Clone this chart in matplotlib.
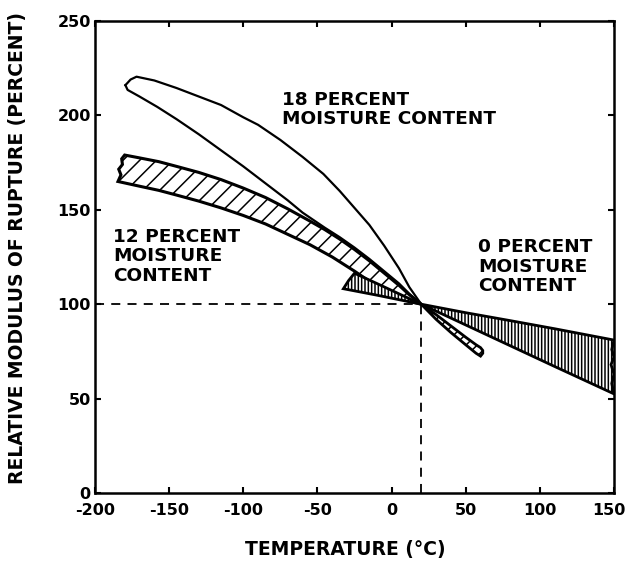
import matplotlib.pyplot as plt
from matplotlib.transforms import ScaledTranslation

plt.rcParams['font.family'] = 'DejaVu Sans'
plt.rcParams['font.weight'] = 'bold'
plt.rcParams['axes.unicode_minus'] = False
plt.rcParams['hatch.linewidth'] = 1.1

# 18 percent moisture content - open band (upper and lower edge)
mc18_top_x = [-179.5, -176, -172, -160, -145, -130, -115, -100, -90, -75, -60, -46, -35, -25, -15, -5, 5, 12, 20]
mc18_top_y = [216, 219, 220.5, 218.5, 214.5, 210, 205.5, 199, 195, 187, 178, 169, 160, 151, 142, 131, 119, 109, 100]
mc18_bot_x = [-179.5, -178, -170, -158, -145, -130, -115, -100, -85, -70, -60, -45, -35, -25, -15, -5, 5, 12, 20]
mc18_bot_y = [216, 213.5, 210, 204.5, 198, 190, 181.5, 173, 164, 155, 148.5, 140.5, 135.5, 130, 124, 117.5, 111, 105.5, 100]
# narrow tail of the band above 20 C
tail_top_x = [20, 30, 40, 50, 57, 60, 61.5]
tail_top_y = [100, 94.5, 88.5, 82.5, 78.5, 77, 75.5]
tail_bot_x = [20, 30, 40, 50, 57, 60, 61.5]
tail_bot_y = [100, 92, 85, 78.5, 74, 72.5, 74]

# 12 percent moisture content - diagonal hatched band
mc12_top_x = [-180, -170, -157, -145, -130, -115, -100, -85, -70, -55, -45, -35, -25, -15, -5, 5, 12, 20]
mc12_top_y = [179, 177.5, 175.5, 173, 169.8, 166, 161.5, 156.5, 150.5, 144, 139.5, 134.5, 129, 123, 116.5, 110, 105, 100]
mc12_bot_x = [-184.5, -170, -157, -145, -130, -115, -100, -85, -70, -55, -40, -25, -10, 5, 20]
mc12_bot_y = [165, 162.5, 160.3, 157.8, 154.6, 151, 147, 142.5, 137, 131.5, 125, 117.5, 109.5, 103, 100]
mc12_break_x = [-184.5, -182.5, -184, -181.5, -182, -180]
mc12_break_y = [165, 168.5, 171.5, 174, 177, 179]

# 0 percent moisture content - vertical hatched band
mc0_left_top_x = [-32.5, -29, -25, -10, 5, 20]
mc0_left_top_y = [108.2, 112.5, 116.4, 111, 105.5, 100]
mc0_left_bot_x = [-32.5, -10, 5, 20]
mc0_left_bot_y = [108.2, 104.8, 102.4, 100]
mc0_right_top_x = [20, 50, 80, 110, 150]
mc0_right_top_y = [100, 95.5, 91.3, 87, 81]
mc0_right_bot_x = [20, 50, 80, 110, 150]
mc0_right_bot_y = [100, 89, 78, 67, 52.5]
mc0_break_x = [150, 148.5, 150, 148, 150, 148.5, 150]
mc0_break_y = [52.5, 58, 63, 68, 72, 76, 81]

x_ticks = [-200, -150, -100, -50, 0, 50, 100, 150]
y_ticks = [0, 50, 100, 150, 200, 250]
ref_temp = 20
ref_value = 100

fig = plt.figure(figsize=(6.29, 5.64), dpi=100)
ax = fig.add_axes([95 / 629, 71 / 564, 519 / 629, 472 / 564])

# reference lines
ax.plot([-200, ref_temp], [ref_value, ref_value], color='black', lw=1.3, ls=(0, (5, 4)))
ax.plot([ref_temp, ref_temp], [0, ref_value], color='black', lw=1.3, ls=(0, (5, 4)))

# 12 percent band
ax.fill(mc12_top_x + mc12_bot_x[::-1] + mc12_break_x, mc12_top_y + mc12_bot_y[::-1] + mc12_break_y,
        facecolor='white', edgecolor='black', lw=2.2, hatch='//')

# 0 percent band
ax.fill(mc0_left_top_x + mc0_left_bot_x[::-1], mc0_left_top_y + mc0_left_bot_y[::-1],
        facecolor='white', edgecolor='black', lw=2.0, hatch='|||||')
ax.fill(mc0_right_top_x + mc0_break_x[::-1] + mc0_right_bot_x[::-1],
        mc0_right_top_y + mc0_break_y[::-1] + mc0_right_bot_y[::-1],
        facecolor='white', edgecolor='black', lw=2.0, hatch='|||||')

# 18 percent band
ax.plot(mc18_top_x, mc18_top_y, color='black', lw=1.6)
ax.plot(mc18_bot_x, mc18_bot_y, color='black', lw=1.6)
ax.fill(tail_top_x + tail_bot_x[::-1], tail_top_y + tail_bot_y[::-1],
        facecolor='white', edgecolor='black', lw=2.0, hatch='///')

ax.text(-74, 213, '18 PERCENT\nMOISTURE CONTENT', fontsize=13.3, ha='left', va='top', linespacing=1.1)
ax.text(-188, 140.5, '12 PERCENT\nMOISTURE\nCONTENT', fontsize=13.3, ha='left', va='top', linespacing=1.1)
ax.text(58.5, 135, '0 PERCENT\nMOISTURE\nCONTENT', fontsize=13.3, ha='left', va='top', linespacing=1.1)

ax.set_xlim(-200, 150)
ax.set_ylim(0, 250)
ax.set_xticks(x_ticks)
ax.set_yticks(y_ticks)
ax.tick_params(axis='both', which='major', labelsize=11.5, width=1.5, length=4, direction='in',
               top=True, right=True)
ax.tick_params(axis='x', pad=7)
ax.tick_params(axis='y', pad=3)
for s in ax.spines.values():
    s.set_linewidth(1.8)

# keep the last x label inside the picture
last = ax.get_xticklabels()[-1]
last.set_transform(last.get_transform() + ScaledTranslation(-5 / 100, 0, fig.dpi_scale_trans))

fig.text(18 / 629, 1 - 248 / 564, 'RELATIVE MODULUS OF RUPTURE (PERCENT)', rotation=90,
         ha='center', va='center', fontsize=13.5)
fig.text(345 / 629, 1 - 549 / 564, 'TEMPERATURE (°C)', ha='center', va='center', fontsize=13.5)

plt.savefig('out.png', dpi=100)
